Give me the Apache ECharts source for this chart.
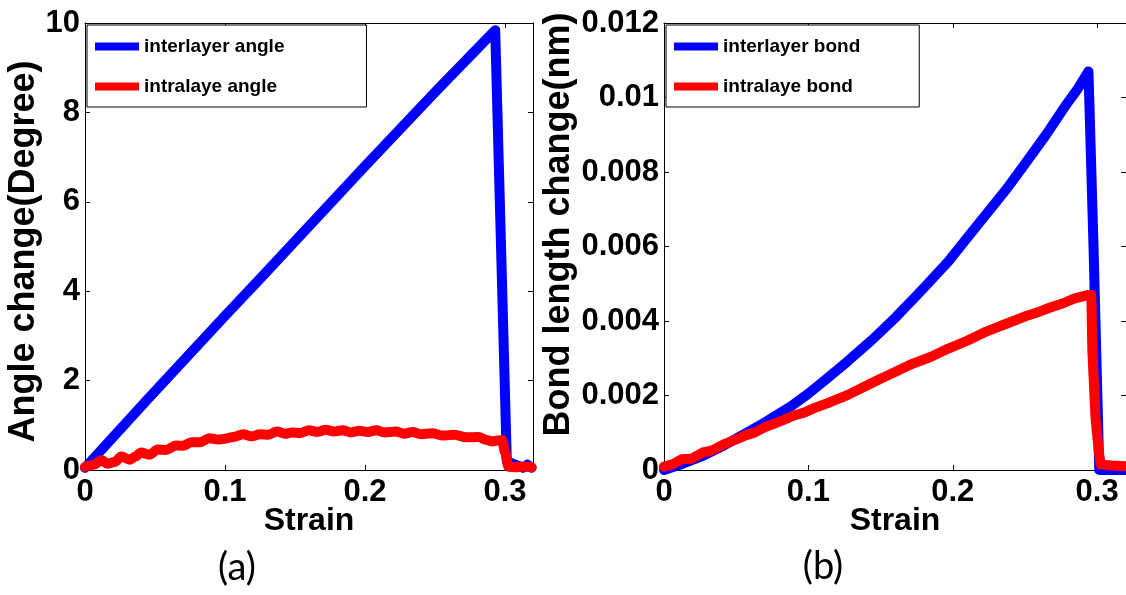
<!DOCTYPE html>
<html>
<head>
<meta charset="utf-8">
<title>Angle and bond length change vs strain</title>
<script src="https://cdn.jsdelivr.net/npm/echarts@6/dist/echarts.min.js"></script>
<style>
  html, body { margin: 0; padding: 0; background: #fff; }
  #chart { width: 1126px; height: 595px; }
</style>
</head>
<body>
<div id="chart"></div>
<script>
// ---- data: [strain, value] ----
const interAngle = [
  [0, 0.05], [0.044, 1.56], [0.1, 3.45], [0.1257, 4.3], [0.2, 6.8], [0.2515, 8.5],
  [0.293, 9.84], [0.3013, 0.2], [0.305, 0.15], [0.309, 0.1], [0.313, 0.05], [0.316, 0.12],
  [0.319, 0.05]
];
const intraAngle = [
  [0, 0.07], [0.006, 0.12], [0.012, 0.22], [0.016, 0.14], [0.021, 0.18], [0.026, 0.3],
  [0.032, 0.23], [0.036, 0.3], [0.04, 0.39], [0.046, 0.34], [0.052, 0.46], [0.058, 0.45],
  [0.065, 0.55], [0.07, 0.54], [0.076, 0.62], [0.082, 0.62], [0.089, 0.71], [0.095, 0.68],
  [0.1, 0.7], [0.106, 0.74], [0.113, 0.8], [0.119, 0.75], [0.125, 0.8], [0.131, 0.79],
  [0.137, 0.86], [0.143, 0.81], [0.148, 0.84], [0.154, 0.83], [0.16, 0.89], [0.166, 0.85],
  [0.172, 0.9], [0.178, 0.86], [0.184, 0.89], [0.19, 0.84], [0.196, 0.88], [0.202, 0.85],
  [0.208, 0.89], [0.214, 0.84], [0.222, 0.86], [0.228, 0.81], [0.234, 0.85], [0.24, 0.8],
  [0.248, 0.82], [0.256, 0.77], [0.264, 0.79], [0.272, 0.73], [0.281, 0.74], [0.287, 0.67],
  [0.291, 0.64], [0.295, 0.66], [0.298, 0.67], [0.3, 0.4], [0.3025, 0.07], [0.308, 0.06],
  [0.313, 0.08], [0.319, 0.06]
];
const interBond = [
  [0, 0], [0.013, 0.00017], [0.027, 0.00038], [0.04, 0.00063], [0.054, 0.00093],
  [0.07, 0.00128], [0.088, 0.00171], [0.1, 0.00205], [0.113, 0.00246], [0.127, 0.00291],
  [0.144, 0.00349], [0.161, 0.00412], [0.18, 0.00489], [0.197, 0.0056], [0.21, 0.00623],
  [0.2245, 0.00693], [0.238, 0.00758], [0.252, 0.00832], [0.265, 0.00902], [0.279, 0.00983],
  [0.286, 0.0102], [0.294, 0.0107], [0.2975, 0.006], [0.3015, 0], [0.31, 0], [0.32, 0]
];
const intraBond = [
  [0, 0.00009], [0.006, 0.00015], [0.0122, 0.00029], [0.019, 0.0003], [0.0268, 0.00047],
  [0.033, 0.00052], [0.0427, 0.00071], [0.05, 0.00082], [0.0564, 0.00093], [0.063, 0.00101],
  [0.07, 0.00115], [0.08, 0.0013], [0.0905, 0.00147], [0.097, 0.00154], [0.104, 0.00166],
  [0.115, 0.00182], [0.127, 0.00201], [0.138, 0.00222], [0.15, 0.00245], [0.16, 0.00263],
  [0.172, 0.00285], [0.185, 0.00304], [0.197, 0.00326], [0.21, 0.00347], [0.2222, 0.0037],
  [0.238, 0.00394], [0.252, 0.00415], [0.26, 0.00425], [0.268, 0.00437], [0.276, 0.00447],
  [0.284, 0.0046], [0.294, 0.0047], [0.296, 0.0047], [0.2967, 0.0032], [0.2989, 0.0014],
  [0.301, 0.00054], [0.3025, 0.00015], [0.31, 0.00012], [0.32, 0.0001]
];

const seriesNames = ['interlayer angle', 'intralaye angle', 'interlayer bond', 'intralaye bond'];
const axisTitles = { strain: 'Strain', angle: 'Angle change(Degree)', bond: 'Bond length change(nm)' };
const panelLabels = ['(a)', '(b)'];

// ---- styling ----
const FONT = '"Liberation Sans", Arial, sans-serif';
const BLUE = '#0000ff';
const RED = '#ff0000';
const tickFont = { fontFamily: FONT, fontWeight: 'bold', fontSize: 31, color: '#000' };
const xNameFont = { fontFamily: FONT, fontWeight: 'bold', fontSize: 32, color: '#000' };
const yNameFont = { fontFamily: FONT, fontWeight: 'bold', fontSize: 36, color: '#000' };
const axisLine = { show: true, onZero: false, lineStyle: { color: '#000', width: 1 } };
const tickIn = { show: true, inside: true, length: 5, lineStyle: { color: '#000', width: 1 } };

function xAxisPair(gridIndex) {
  return [
    {
      type: 'value', gridIndex, position: 'bottom', min: 0, max: 0.32, interval: 0.1,
      axisLine, axisTick: tickIn, splitLine: { show: false },
      axisLabel: Object.assign({ margin: 7, showMaxLabel: false }, tickFont),
      name: axisTitles.strain, nameLocation: 'middle', nameGap: 35, nameMoveOverlap: false,
      nameTextStyle: xNameFont
    },
    {
      type: 'value', gridIndex, position: 'top', min: 0, max: 0.32, interval: 0.1,
      axisLine, axisTick: tickIn, splitLine: { show: false }, axisLabel: { show: false }
    }
  ];
}
// pad shifts the rotated title along the axis (left padding moves it up)
function yAxisPair(gridIndex, max, interval, title, gap, pad) {
  return [
    {
      type: 'value', gridIndex, position: 'left', min: 0, max, interval,
      axisLine, axisTick: tickIn, splitLine: { show: false },
      axisLabel: Object.assign({ margin: 5 }, tickFont),
      name: title, nameLocation: 'middle', nameRotate: 90, nameGap: gap,
      nameTextStyle: Object.assign({ padding: pad }, yNameFont)
    },
    {
      type: 'value', gridIndex, position: 'right', min: 0, max, interval,
      axisLine, axisTick: tickIn, splitLine: { show: false }, axisLabel: { show: false }
    }
  ];
}
function lineSeries(name, data, color, xi, yi, smooth) {
  return {
    type: 'line', name, data, xAxisIndex: xi, yAxisIndex: yi,
    showSymbol: false, clip: false, color,
    smooth: smooth || false, smoothMonotone: 'x',
    lineStyle: { color, width: 10, cap: 'round', join: 'round' }
  };
}
function legendFor(names, left, padRight) {
  return {
    data: names, orient: 'vertical', left, top: 25,
    icon: 'rect', itemWidth: 44, itemHeight: 8, itemGap: 21,
    padding: [12, padRight, 11, 8],
    borderColor: '#000', borderWidth: 1, borderRadius: 0, backgroundColor: '#fff',
    textStyle: { fontFamily: FONT, fontWeight: 'bold', fontSize: 19, color: '#000' },
    selectedMode: false
  };
}

const chart = echarts.init(document.getElementById('chart'), null, { renderer: 'canvas' });
chart.setOption({
  backgroundColor: '#fff',
  animation: false,
  grid: [
    { left: 85, top: 23, width: 448, height: 447, containLabel: false },
    { left: 664, top: 23, width: 469, height: 447, containLabel: false }
  ],
  xAxis: [...xAxisPair(0), ...xAxisPair(1)],
  yAxis: [
    ...yAxisPair(0, 10, 2, axisTitles.angle, 42, [0, 10, 0, 0]),
    ...yAxisPair(1, 0.012, 0.002, axisTitles.bond, 84, [0, 0, 0, 44])
  ],
  legend: [
    legendFor([seriesNames[0], seriesNames[1]], 87, 82),
    legendFor([seriesNames[2], seriesNames[3]], 666, 59)
  ],
  series: [
    lineSeries(seriesNames[0], interAngle, BLUE, 0, 0),
    lineSeries(seriesNames[1], intraAngle, RED, 0, 0, 0.3),
    lineSeries(seriesNames[2], interBond, BLUE, 2, 2),
    lineSeries(seriesNames[3], intraBond, RED, 2, 2)
  ],
  graphic: [
    { type: 'text', x: 237, y: 568, style: { text: panelLabels[0], font: '38px Lato, "Open Sans", sans-serif', fill: '#000', align: 'center', verticalAlign: 'middle' } },
    { type: 'text', x: 823, y: 567, style: { text: panelLabels[1], font: '38px Lato, "Open Sans", sans-serif', fill: '#000', align: 'center', verticalAlign: 'middle' } }
  ]
});
</script>
</body>
</html>
